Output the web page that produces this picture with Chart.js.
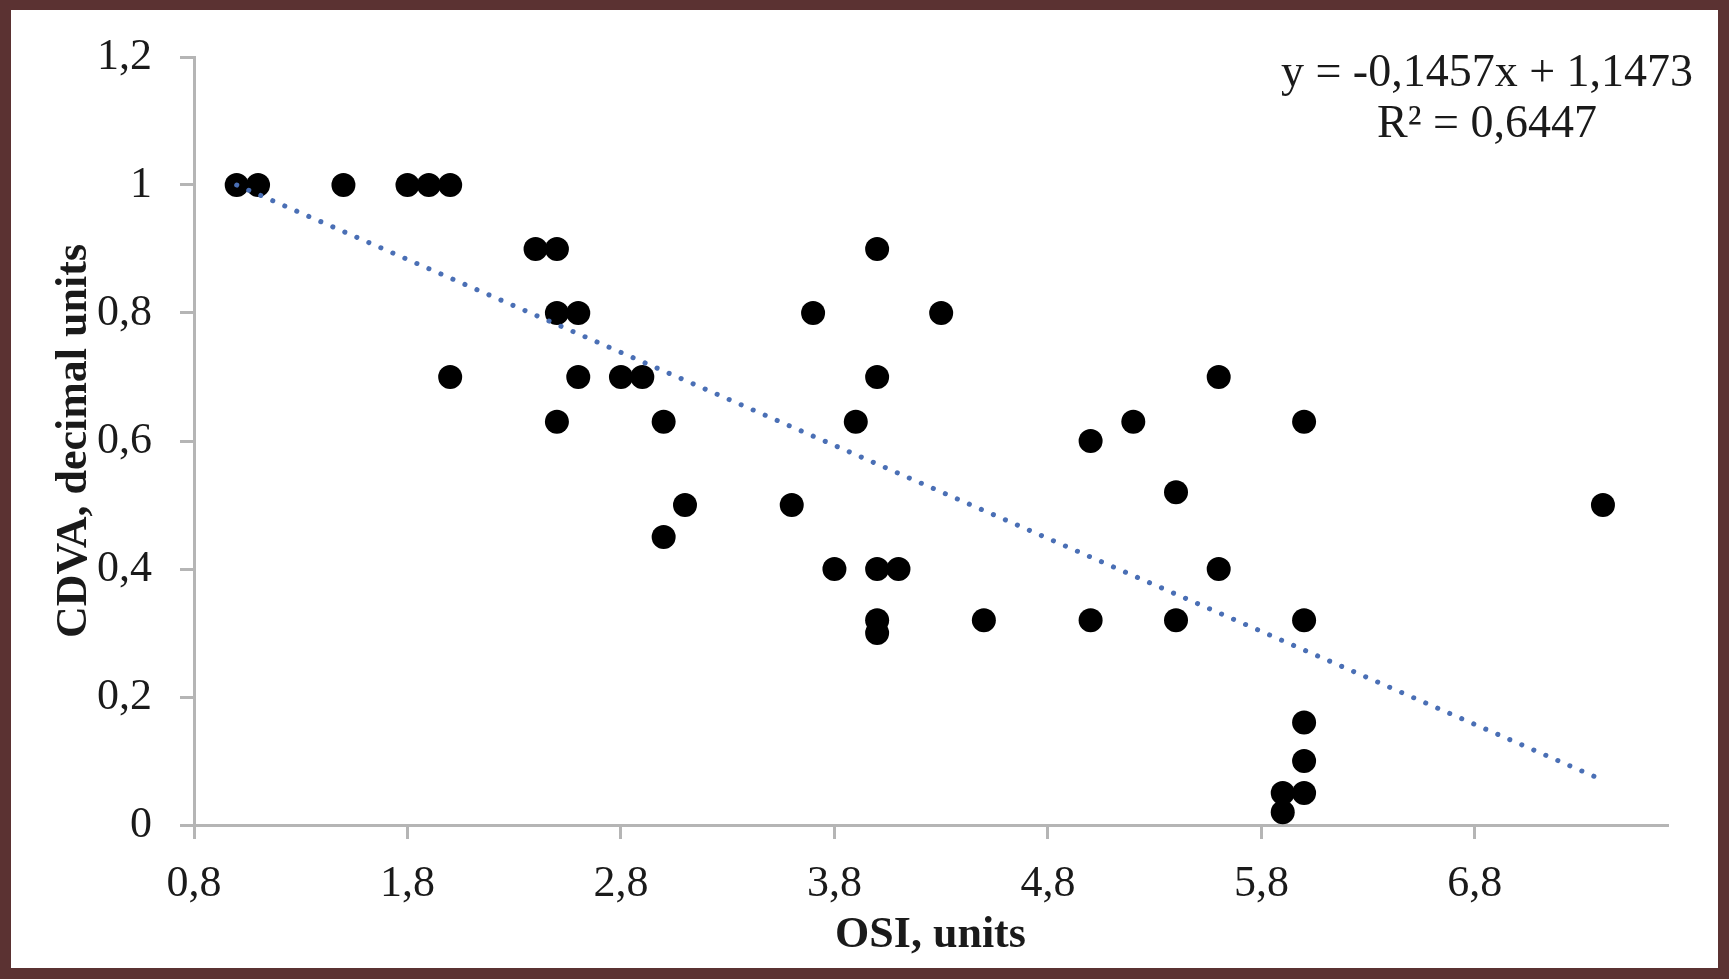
<!DOCTYPE html>
<html>
<head>
<meta charset="utf-8">
<script src="https://cdn.jsdelivr.net/npm/chart.js@4.4.1/dist/chart.umd.min.js"></script>
<style>
  html, body { margin: 0; padding: 0; background: #5b3232; width: 1729px; height: 979px; overflow: hidden; }
  #frame { position: absolute; left: 11px; top: 10px; width: 1707px; height: 958px; background: #ffffff; }
  canvas { display: block; }
</style>
</head>
<body>
<div id="frame"><canvas id="myChart" width="1707" height="958"></canvas></div>
<script>
// DATA
var osiValues = [1.0, 1.1, 1.5, 1.8, 1.9, 2.0, 2.4, 2.5, 2.5, 2.6, 2.0, 2.6, 2.8, 2.9, 2.5,
                 3.0, 3.1, 3.0, 3.6, 3.7, 4.0, 4.0, 3.9, 4.3, 3.8, 4.0, 4.1, 4.0, 4.0, 4.5,
                 5.0, 5.0, 5.2, 5.4, 5.4, 5.6, 5.6, 6.0, 6.0, 6.0, 6.0, 6.0, 5.9, 5.9, 7.4];
var cdvaValues = [1, 1, 1, 1, 1, 1, 0.9, 0.9, 0.8, 0.8, 0.7, 0.7, 0.7, 0.7, 0.63,
                  0.63, 0.5, 0.45, 0.5, 0.8, 0.9, 0.7, 0.63, 0.8, 0.4, 0.4, 0.4, 0.32, 0.3, 0.32,
                  0.6, 0.32, 0.63, 0.52, 0.32, 0.7, 0.4, 0.63, 0.32, 0.16, 0.1, 0.05, 0.05, 0.02, 0.5];

// linear trendline ends
var trendX = [1.0, 7.4];
var trendY = [1.0, 0.07];
var equationLines = ['y = -0,1457x + 1,1473', 'R\u00B2 = 0,6447'];

var xTickValues = [0.8, 1.8, 2.8, 3.8, 4.8, 5.8, 6.8];
var xTickLabels = ['0,8', '1,8', '2,8', '3,8', '4,8', '5,8', '6,8'];
var yTickValues = [0, 0.2, 0.4, 0.6, 0.8, 1, 1.2];
var yTickLabels = ['0', '0,2', '0,4', '0,6', '0,8', '1', '1,2'];

var xTitle = 'OSI, units';
var yTitle = 'CDVA, decimal units';
// END DATA

var FONT = "'Liberation Serif', 'Times New Roman', serif";
var axisGray = '#b5b5b5';

function toPoints(xs, ys){
    var pts = [];
    for (var i = 0; i < xs.length; i++) pts.push({x: xs[i], y: ys[i]});
    return pts;
}

var equationPlugin = {
    id: 'equation',
    afterDraw: function(chart){
        var ctx = chart.ctx;
        ctx.save();
        ctx.font = '46px ' + FONT;
        ctx.fillStyle = '#1a1a1a';
        ctx.textAlign = 'center';
        ctx.textBaseline = 'middle';
        ctx.fillText(equationLines[0], 1476, 64);
        ctx.fillText(equationLines[1], 1476, 115);
        ctx.restore();
    }
};

var ctx = document.getElementById('myChart').getContext('2d');
var chart = new Chart(ctx, {
    type: 'scatter',
    data: {
        datasets: [{
            type: 'line',
            label: 'trend',
            data: toPoints(trendX, trendY),
            borderColor: '#4a6fb5',
            borderWidth: 5,
            borderDash: [0.1, 13],
            borderCapStyle: 'round',
            pointRadius: 0,
            fill: false,
            order: 0
        }, {
            label: 'CDVA',
            data: toPoints(osiValues, cdvaValues),
            backgroundColor: '#000000',
            borderWidth: 0,
            pointRadius: 12,
            pointHoverRadius: 12,
            order: 1
        }]
    },
    options: {
        responsive: false,
        animation: false,
        layout: { padding: { top: 47, right: 51, bottom: 0, left: 0 } },
        plugins: { legend: { display: false }, tooltip: { enabled: false } },
        scales: {
            x: {
                type: 'linear',
                min: 0.8,
                max: 7.7,
                afterBuildTicks: function(scale){
                    scale.ticks = xTickValues.map(function(v){ return {value: v}; });
                },
                afterFit: function(scale){ scale.height = 143; },
                grid: { drawOnChartArea: false, drawTicks: true, tickLength: 14, color: axisGray, lineWidth: 3 },
                border: { display: true, color: axisGray, width: 3 },
                ticks: {
                    padding: 19,
                    color: '#1a1a1a',
                    font: { family: FONT, size: 44 },
                    callback: function(v){
                        var i = xTickValues.indexOf(Math.round(v * 10) / 10);
                        return i >= 0 ? xTickLabels[i] : '';
                    }
                },
                title: {
                    display: true,
                    text: xTitle,
                    color: '#1a1a1a',
                    font: { family: FONT, size: 44, weight: 'bold' },
                    padding: { top: 0, bottom: 6 }
                }
            },
            y: {
                type: 'linear',
                min: 0,
                max: 1.2,
                afterBuildTicks: function(scale){
                    scale.ticks = yTickValues.map(function(v){ return {value: v}; });
                },
                afterFit: function(scale){
                    scale.width = 183;
                    scale.paddingTop = 0;
                    scale.paddingBottom = 0;
                },
                grid: { drawOnChartArea: false, drawTicks: true, tickLength: 14, color: axisGray, lineWidth: 3 },
                border: { display: true, color: axisGray, width: 3 },
                ticks: {
                    padding: 28,
                    color: '#1a1a1a',
                    font: { family: FONT, size: 44 },
                    callback: function(v){
                        var i = yTickValues.indexOf(Math.round(v * 10) / 10);
                        return i >= 0 ? yTickLabels[i] : '';
                    }
                },
                title: {
                    display: true,
                    text: yTitle,
                    color: '#1a1a1a',
                    font: { family: FONT, size: 44, weight: 'bold' },
                    padding: { top: 37, bottom: 0 }
                }
            }
        }
    },
    plugins: [equationPlugin]
});
</script>
</body>
</html>
